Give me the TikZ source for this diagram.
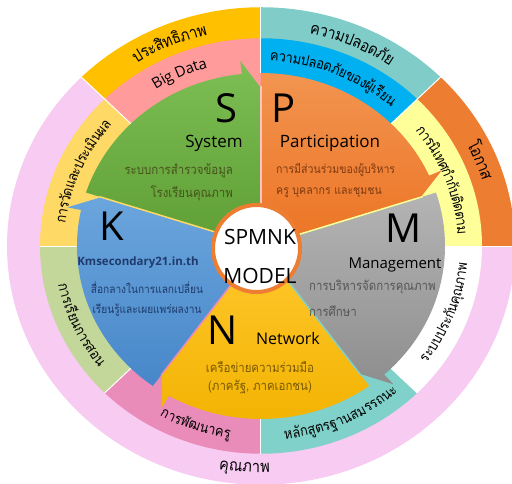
\documentclass[tikz,border=0pt]{standalone}
\usepackage{fontspec}
\setmainfont{Open Sans}
\newfontfamily\thaif[Script=Thai, FakeStretch=0.88]{Loma}
\definecolor{cEff}{HTML}{FFC000}
\definecolor{cBig}{HTML}{FF9B9B}
\definecolor{cSafeO}{HTML}{80CCC8}
\definecolor{cSafeI}{HTML}{00B0F0}
\definecolor{cOpp}{HTML}{ED7D31}
\definecolor{cSup}{HTML}{FFFF99}
\definecolor{cQual}{HTML}{F7CBF2}
\definecolor{cCur}{HTML}{7FD1CA}
\definecolor{cDev}{HTML}{EA8CB9}
\definecolor{cLearn}{HTML}{C4D79B}
\definecolor{cEval}{HTML}{FFD966}
\definecolor{sTop}{HTML}{7DBE55}\definecolor{sBot}{HTML}{5E9E34}
\definecolor{pTop}{HTML}{F29450}\definecolor{pBot}{HTML}{EC7424}
\definecolor{mTop}{HTML}{B4B4B4}\definecolor{mBot}{HTML}{8E8E8E}
\definecolor{nTop}{HTML}{FFC82E}\definecolor{nBot}{HTML}{F2B200}
\definecolor{kTop}{HTML}{6BA5DD}\definecolor{kBot}{HTML}{4787C9}
\definecolor{sTxt}{HTML}{46531C}
\definecolor{pTxt}{HTML}{7F3A10}
\definecolor{mTxt}{HTML}{555555}
\definecolor{nTxt}{HTML}{7A5A00}
\definecolor{kTxt}{HTML}{1F3B6B}
\newcommand\arrsec[3]{%
  \shade[top color=#2, bottom color=#3] (0,0) -- ({#1+72}:184)
    arc[start angle={#1+72}, end angle={#1+6}, radius=184]
    -- ({#1+6}:198) -- (#1:168) -- cycle;}
\newdimen\arcTot \newdimen\arcAcc \newdimen\arcW
\newcommand\measure[1]{\pgfinterruptpicture\global\setbox1\hbox{#1}\global\arcW=\wd1\relax\endpgfinterruptpicture}
% #1 name, #2 centre angle, #3 radius, #4 direction (1 clockwise, -1 anticlockwise), #5 font, #6 clusters
\newcommand\arctext[6]{%
  \global\arcTot=0pt
  \foreach \c in {#6}{\measure{#5\c}\global\advance\arcTot by \arcW\relax}%
  \global\arcAcc=0pt
  \foreach \c [count=\i] in {#6}{%
    \measure{#5\c}%
    \edef\w{\the\arcW}\edef\acc{\the\arcAcc}\edef\tot{\the\arcTot}%
    \pgfmathsetmacro\ang{#2 - #4*(\acc + 0.5*\w - 0.5*\tot)/(#3)*180/pi}%
    \pgfmathsetmacro\rot{\ang - #4*90}%
    \pgfmathsetmacro\rad{#3 - #4*5}%
    \node[rotate=\rot, anchor=base, inner sep=0pt, font={#5}] (#1-\i) at (\ang:\rad) {\c};
    \global\advance\arcAcc by \arcW\relax
  }%
}
\newcommand\fo{\thaif\fontsize{16.5}{20}\selectfont}
\newcommand\fm{\thaif\fontsize{14.5}{18}\selectfont}
\newcommand\fl{\normalfont\fontsize{15}{18}\selectfont}
\tikzset{
  bigletter/.style={font=\fontsize{40}{44}\selectfont, text=black, inner sep=0pt},
  head/.style={font=\fontsize{17}{20}\selectfont, text=black, inner sep=0pt},
  thaiin/.style={font=\thaif\fontsize{13}{15}\selectfont, inner sep=0pt},
  thaismall/.style={font=\thaif\fontsize{12}{15}\selectfont, inner sep=0pt},
  sep/.style={white, line width=1pt}
}
\begin{document}
\begin{tikzpicture}[x=1pt,y=1pt]
\useasboundingbox (-261,-237) rectangle (251,246);
\begin{scope}[yscale=0.94]
  % outer ring
  \fill[cQual] (0,0) -- (135:254) arc[start angle=135, end angle=360, radius=254] -- cycle;
  \fill[cOpp] (0,0) -- (0:254) arc[start angle=0, end angle=45, radius=254] -- cycle;
  \fill[cSafeO] (0,0) -- (45:254) arc[start angle=45, end angle=90, radius=254] -- cycle;
  \fill[cEff] (0,0) -- (90:254) arc[start angle=90, end angle=135, radius=254] -- cycle;
  \foreach \a in {0,45,90,135} \draw[sep] (\a:221) -- (\a:254);
  % middle ring
  \foreach \a/\c in {0/cSup,45/cSafeI,90/cBig,135/cEval,180/cLearn,225/cDev,270/cCur,315/white}
    \fill[\c] (0,0) -- (\a:221) arc[start angle=\a, end angle=\a+45, radius=221] -- cycle;
  \foreach \a in {0,45,90,135,180,225,270,315} \draw[sep] (\a:184) -- (\a:221);
  % arrow sectors
  \arrsec{90}{sTop}{sBot}
  \arrsec{18}{pTop}{pBot}
  \arrsec{-54}{mTop}{mBot}
  \arrsec{234}{nTop}{nBot}
  \arrsec{162}{kTop}{kBot}
  \draw[line width=1.5pt, cEval] (0,0) -- (162:170);
  \draw[line width=1.5pt, cDev] (0,0) -- (234:170);
  \draw[line width=1.5pt, cCur] (0,0) -- (306:170);
  \draw[line width=1.5pt, cSup] (0,0) -- (18:170);
  \draw[line width=1.2pt, cBig!60!white] (0,0) -- (90:170);
  % outer ring texts
  \arctext{oa}{113}{236}{1}{\fo}{ป,ร,ะ,สิ,ท,ธิ,ภ,า,พ}
  \arctext{ob}{67}{236}{1}{\fo}{ค,ว,า,ม,ป,ล,อ,ด,ภั,ย}
  \arctext{oc}{22.5}{237}{1}{\fo}{โ,อ,ก,า,ส}
  \arctext{od}{266}{236}{-1}{\fo}{คุ,ณ,ภ,า,พ}
  % middle ring texts
  \arctext{ma}{114}{202}{1}{\fl}{B,i,g,~,D,a,t,a}
  \arctext{mb}{68}{202}{1}{\fm}{ค,ว,า,ม,ป,ล,อ,ด,ภั,ย,ข,อ,ง,ผู้,เ,รี,ย,น}
  \arctext{mc}{21}{202}{1}{\fm}{ก,า,ร,นิ,เ,ท,ศ,กำ,กั,บ,ติ,ด,ต,า,ม}
  \arctext{md}{-21}{202}{-1}{\fm}{ร,ะ,บ,บ,ป,ร,ะ,กั,น,คุ,ณ,ภ,า,พ}
  \arctext{me}{-66}{202}{-1}{\fm}{ห,ลั,ก,สู,ต,ร,ฐ,า,น,ส,ม,ร,ร,ถ,น,ะ}
  \arctext{mf}{251}{202}{-1}{\fm}{ก,า,ร,พั,ฒ,น,า,ค,รู}
  \arctext{mg}{205}{202}{-1}{\fm}{ก,า,ร,เ,รี,ย,น,ก,า,ร,ส,อ,น}
  \arctext{mh}{156}{202}{1}{\fm}{ก,า,ร,วั,ด,แ,ล,ะ,ป,ร,ะ,เ,มิ,น,ผ,ล}
\end{scope}
% centre
\node[draw=cOpp, line width=4pt, fill=white, circle, minimum size=87pt, inner sep=0pt] (c) at (-4.5,-2.5) {};
\node[font=\fontsize{21}{24}\selectfont, inner sep=0pt] (c1) at (-1,9.5) {SPMNK};
\node[font=\fontsize{21}{24}\selectfont, inner sep=0pt] (c2) at (-1,-29.5) {MODEL};
% letters
\node[bigletter] (S) at (-35,138) {S};
\node[bigletter] (P) at (23,138) {P};
\node[bigletter] (M) at (143,18) {M};
\node[bigletter] (N) at (-38,-84) {N};
\node[bigletter] (K) at (-149,20) {K};
\node[head] (hs) at (-47,103) {System};
\node[head] (hp) at (69,103) {Participation};
\node[head, font=\fontsize{15}{18}\selectfont] (hm) at (134,-19) {Management};
\node[head, font=\fontsize{16}{18}\selectfont] (hn) at (27,-92) {Network};
\node[font=\fontsize{11.5}{14}\selectfont\bfseries, text=kTxt, inner sep=0pt] (hk) at (-123,-17) {Kmsecondary21.in.th};
% thai inner
\node[thaiin, text=sTxt, anchor=east] (s1) at (-28,75) {ระบบการสำรวจข้อมูล};
\node[thaiin, text=sTxt, anchor=east] (s2) at (-28,53) {โรงเรียนคุณภาพ};
\node[thaismall, text=pTxt, anchor=west] (p1) at (15,76) {การมีส่วนร่วมของผู้บริหาร};
\node[thaismall, text=pTxt, anchor=west] (p2) at (15,53) {ครู บุคลากร และชุมชน};
\node[thaiin, text=mTxt, anchor=west] (mm1) at (48,-41) {การบริหารจัดการคุณภาพ};
\node[thaiin, text=mTxt, anchor=west] (mm2) at (48,-65) {การศึกษา};
\node[thaiin, text=nTxt] (n1) at (-1,-121) {เครือข่ายความร่วมมือ};
\node[thaiin, text=nTxt] (n2) at (-1,-141) {(ภาครัฐ, ภาคเอกชน)};
\node[thaismall, font=\thaif\fontsize{11.5}{14}\selectfont, text=kTxt] (k1) at (-114,-42) {สื่อกลางในการแลกเปลี่ยน};
\node[thaismall, font=\thaif\fontsize{11.5}{14}\selectfont, text=kTxt] (k2) at (-114,-64) {เรียนรู้และเผยแพร่ผลงาน};
\end{tikzpicture}
\end{document}
